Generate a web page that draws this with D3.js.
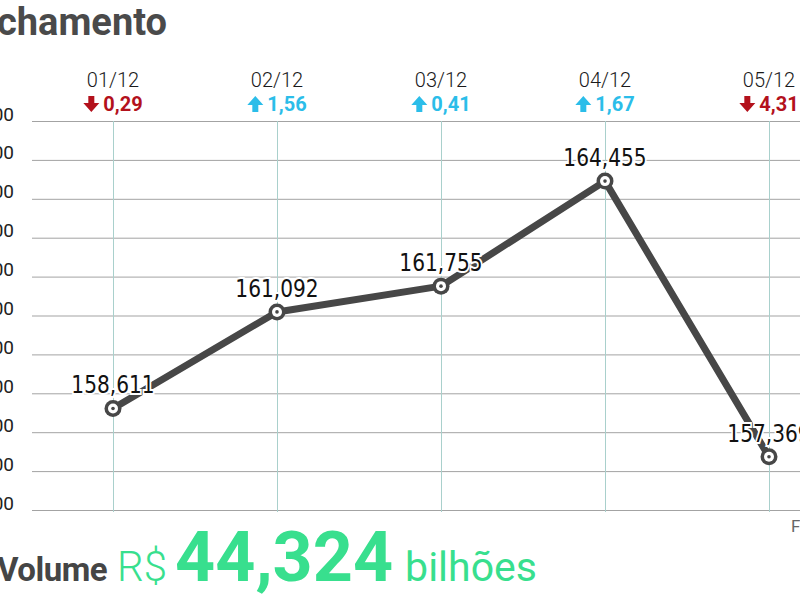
<!DOCTYPE html>
<html>
<head>
<meta charset="utf-8">
<script src="https://cdn.jsdelivr.net/npm/d3@7"></script>
<style>
  html, body { margin: 0; padding: 0; background: #fff; overflow: hidden; }
  svg { display: block; }
</style>
</head>
<body>
<svg id="chart" width="800" height="600"></svg>
<script>
const dates = ["01/12", "02/12", "03/12", "04/12", "05/12"];
const values = [158611, 161092, 161755, 164455, 157369];
const valueLabels = ["158,611", "161,092", "161,755", "164,455", "157,369"];
const changes = ["0,29", "1,56", "0,41", "1,67", "4,31"];
const directions = ["down", "up", "up", "up", "down"];
const yTicks = [156000, 157000, 158000, 159000, 160000, 161000, 162000, 163000, 164000, 165000, 166000];
const yTickLabels = ["156.000", "157.000", "158.000", "159.000", "160.000", "161.000", "162.000", "163.000", "164.000", "165.000", "166.000"];
const titleText = "Fechamento";
const volumeLabel = "Volume";
const volumeCurrency = "R$";
const volumeValue = "44,324";
const volumeUnit = "bilhões";
const sourceText = "Fonte: B3";

const svg = d3.select("#chart");
const green = "#38df8e";
const red = "#b3111c";
const cyan = "#2bbde9";
const dark = "#474747";

const x = d3.scalePoint().domain(dates).range([113, 769]).padding(0);
const y = d3.scaleLinear().domain([156000, 166000]).range([510, 121]);

// title (partially cut at left, as in the reference)
svg.append("text")
  .attr("x", 167).attr("y", 35)
  .attr("text-anchor", "end")
  .attr("font-family", "Roboto")
  .attr("font-weight", 700)
  .attr("font-size", 38)
  .attr("fill", "#4a4a4a")
  .text(titleText);

// horizontal grid
const yAxis = d3.axisLeft(y).tickValues(yTicks).tickSize(-(800 - 32)).tickFormat((d, i) => yTickLabels[i]);
const gy = svg.append("g").attr("transform", "translate(32,0)").call(yAxis);
gy.select(".domain").remove();
gy.selectAll(".tick line").attr("stroke", "#a3a3a3").attr("stroke-width", 1);
gy.selectAll(".tick text")
  .attr("x", 14 - 32)
  .attr("dy", "-0.05em")
  .attr("text-anchor", "end")
  .attr("font-family", "Roboto")
  .attr("font-size", 19)
  .attr("fill", "#222");

// vertical grid
const xAxis = d3.axisTop(x).tickSize(0).tickFormat("");
const gx = svg.append("g").call(xAxis);
gx.select(".domain").remove();
gx.selectAll(".tick").append("line")
  .attr("y1", y(166000)).attr("y2", 512)
  .attr("stroke", "#a9d0cc").attr("stroke-width", 1);

// date labels
svg.append("g").selectAll("text").data(dates).join("text")
  .attr("x", d => x(d)).attr("y", 87)
  .attr("text-anchor", "middle")
  .attr("font-family", "Roboto")
  .attr("font-weight", 300)
  .attr("font-size", 20)
  .attr("fill", "#1a1a1a")
  .text(d => d);

// change labels with filled arrows
const ch = svg.append("g").selectAll("g").data(dates).join("g");
ch.each(function(d, i) {
  const g = d3.select(this);
  const col = directions[i] === "up" ? cyan : red;
  const t = g.append("text")
    .attr("y", 111)
    .attr("font-family", "Roboto")
    .attr("font-weight", 700)
    .attr("font-size", 20)
    .attr("fill", col)
    .text(changes[i]);
  const tw = t.node().getComputedTextLength();
  const aw = 16, gap = 4;
  const left = x(d) - (aw + gap + tw) / 2;
  t.attr("x", left + aw + gap);
  const down = "M5,0 H11 V7 H16 L8,16 L0,7 H5 Z";
  const up = "M8,0 L16,9 H11 V16 H5 V9 H0 Z";
  g.append("path")
    .attr("d", directions[i] === "up" ? up : down)
    .attr("transform", `translate(${left},96)`)
    .attr("fill", col);
});

// line
const line = d3.line().x((d, i) => x(dates[i])).y(d => y(d));
svg.append("path")
  .datum(values)
  .attr("d", line)
  .attr("fill", "none")
  .attr("stroke", dark)
  .attr("stroke-width", 7)
  .attr("stroke-linejoin", "round");

// value labels (condensed)
svg.append("g").selectAll("text").data(values).join("text")
  .attr("transform", (d, i) => `translate(${x(dates[i])},${y(d) - 15}) scale(0.84,1)`)
  .attr("text-anchor", "middle")
  .attr("font-family", "'DejaVu Sans', sans-serif")
  .attr("font-size", 24)
  .attr("fill", "#111")
  .attr("stroke", "#fff")
  .attr("stroke-width", 4)
  .attr("paint-order", "stroke")
  .text((d, i) => valueLabels[i]);

// markers
const m = svg.append("g").selectAll("g").data(values).join("g")
  .attr("transform", (d, i) => `translate(${x(dates[i])},${y(d)})`);
m.append("circle").attr("r", 8.5).attr("fill", dark);
m.append("circle").attr("r", 5).attr("fill", "#fff");
m.append("circle").attr("r", 1.8).attr("fill", dark);

// source
svg.append("text")
  .attr("x", 791).attr("y", 532)
  .attr("font-family", "Roboto")
  .attr("font-size", 17)
  .attr("fill", "#666")
  .text(sourceText);

// volume line
const vol = svg.append("text").attr("y", 581).attr("font-family", "Roboto");
vol.append("tspan").attr("x", -3)
  .attr("font-weight", 700).attr("font-size", 33).attr("fill", "#454545")
  .attr("letter-spacing", -0.5)
  .text(volumeLabel);
vol.append("tspan").attr("dx", 10)
  .attr("font-weight", 300).attr("font-size", 42).attr("fill", green)
  .text(volumeCurrency);
vol.append("tspan").attr("dx", 8)
  .attr("font-weight", 700).attr("font-size", 70).attr("fill", green)
  .text(volumeValue);
vol.append("tspan").attr("dx", 12)
  .attr("font-weight", 400).attr("font-size", 41).attr("fill", green)
  .text(volumeUnit);
</script>
</body>
</html>
